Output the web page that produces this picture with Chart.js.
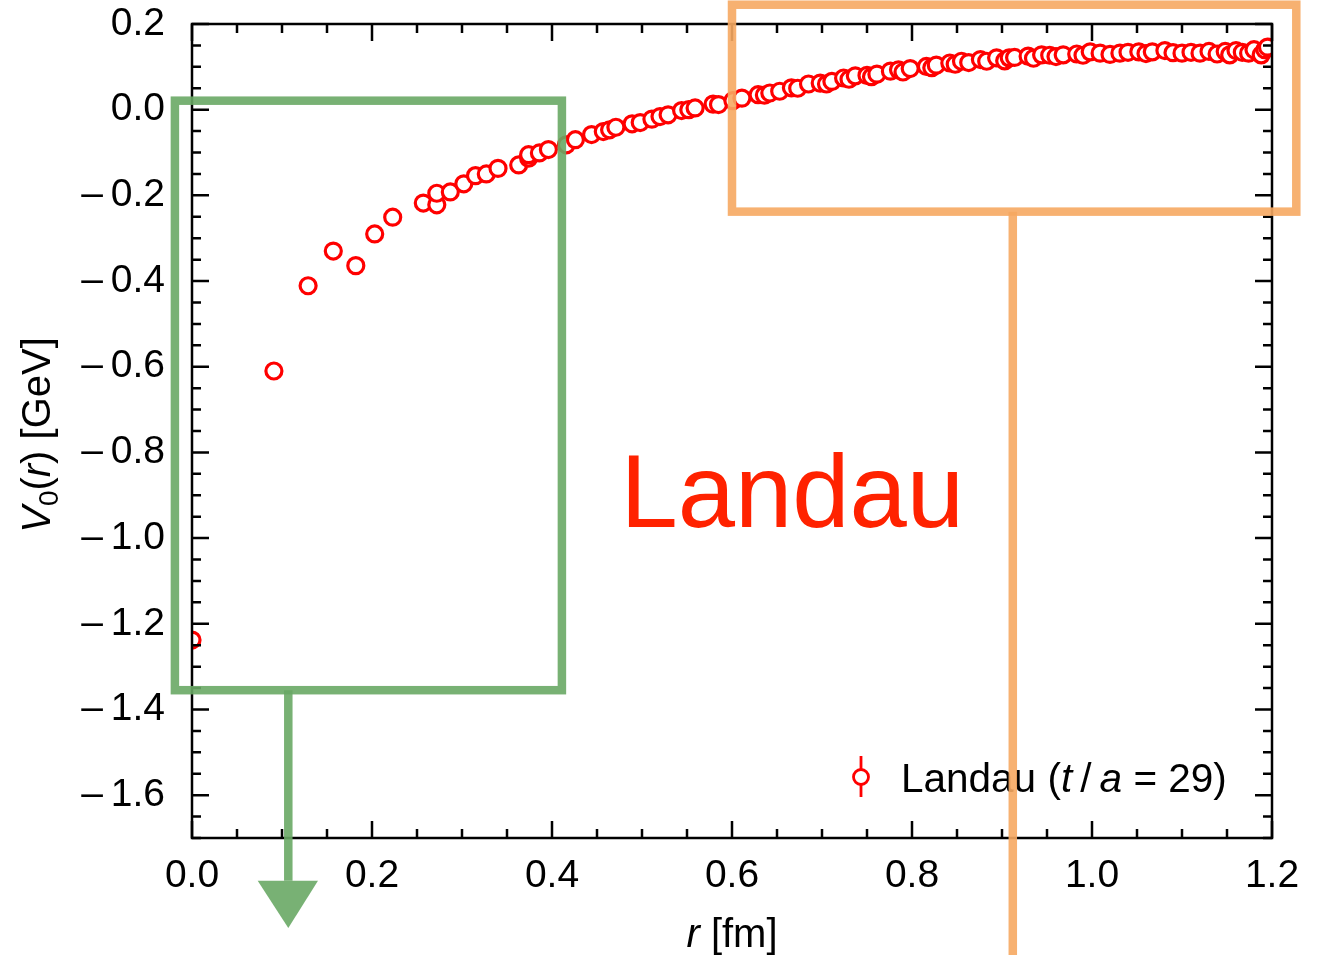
<!DOCTYPE html>
<html>
<head>
<meta charset="utf-8">
<title>V0(r) – Landau</title>
<script src="https://cdn.jsdelivr.net/npm/chart.js@4.4.1/dist/chart.umd.min.js"></script>
<style>
  html, body { margin: 0; padding: 0; background: #fff; }
  canvas { display: block; }
</style>
</head>
<body>
<canvas id="chart" width="1320" height="955"></canvas>
<script>
// Static potential V0(r), Landau gauge, t/a = 29
const rFm = [
  0.000, 0.091, 0.129, 0.157, 0.182, 0.203, 0.223, 0.257, 0.272, 0.272,
  0.287, 0.302, 0.315, 0.327, 0.340, 0.363, 0.374, 0.374, 0.386, 0.396,
  0.416, 0.426, 0.444, 0.457, 0.464, 0.471, 0.489, 0.498, 0.511, 0.520,
  0.529, 0.544, 0.552, 0.559, 0.579, 0.585, 0.601, 0.611, 0.629, 0.636,
  0.642, 0.653, 0.666, 0.673, 0.685, 0.698, 0.705, 0.711, 0.724, 0.730,
  0.737, 0.750, 0.755, 0.761, 0.776, 0.785, 0.790, 0.798, 0.816, 0.822,
  0.827, 0.842, 0.848, 0.855, 0.863, 0.876, 0.883, 0.894, 0.903, 0.908,
  0.914, 0.929, 0.935, 0.944, 0.953, 0.960, 0.968, 0.983, 0.990, 0.998,
  1.009, 1.020, 1.031, 1.040, 1.052, 1.060, 1.067, 1.081, 1.090, 1.100,
  1.110, 1.120, 1.130, 1.139, 1.148, 1.153, 1.160, 1.167, 1.174, 1.180,
  1.188, 1.192, 1.195
];
const v0GeV = [
  -1.238, -0.610, -0.411, -0.330, -0.364, -0.290, -0.251, -0.218, -0.222, -0.195,
  -0.192, -0.173, -0.154, -0.150, -0.137, -0.129, -0.113, -0.105, -0.101, -0.093,
  -0.082, -0.070, -0.058, -0.051, -0.047, -0.041, -0.033, -0.030, -0.022, -0.016,
  -0.012, -0.002, 0.000, 0.004, 0.013, 0.012, 0.021, 0.027, 0.035, 0.034,
  0.039, 0.043, 0.051, 0.050, 0.060, 0.062, 0.060, 0.066, 0.074, 0.071,
  0.079, 0.080, 0.077, 0.083, 0.090, 0.093, 0.088, 0.096, 0.101, 0.098,
  0.104, 0.109, 0.106, 0.113, 0.110, 0.117, 0.113, 0.121, 0.114, 0.121,
  0.122, 0.125, 0.120, 0.128, 0.127, 0.124, 0.128, 0.130, 0.127, 0.135,
  0.132, 0.129, 0.132, 0.134, 0.135, 0.131, 0.135, 0.138, 0.133, 0.132,
  0.134, 0.132, 0.136, 0.130, 0.136, 0.128, 0.138, 0.134, 0.132, 0.140,
  0.128, 0.140, 0.146
];

// axis ranges and labelled (major) ticks; minor ticks every 0.05
const xRange = [0, 1.2];
const yRange = [-1.7, 0.2];
const xMajorTicks = [0.0, 0.2, 0.4, 0.6, 0.8, 1.0, 1.2];
const yMajorTicks = [-1.6, -1.4, -1.2, -1.0, -0.8, -0.6, -0.4, -0.2, 0.0, 0.2];
const minorStep = 0.05;

// highlight boxes, in data units [rLeft, rRight, vBottom, vTop]
const greenBox = [-0.019, 0.411, -1.355, 0.021];
const orangeBox = [0.600, 1.227, -0.238, 0.245];

const FONT = "'Liberation Sans', Arial, sans-serif";
const RED = '#ff0000';

const isMajor = (v, majors) => majors.some(m => Math.abs(m - v) < 1e-6);
// long dash for the sign, like the typeset minus
const fmt = v => {
    const s = (Math.abs(v) < 1e-9 ? 0 : v).toFixed(1);
    return s.replace('-', '\u2013\u2009');
};

function buildTicks(range) {
    const out = [];
    const n = Math.round((range[1] - range[0]) / minorStep);
    for (let i = 0; i <= n; i++) {
        out.push({ value: +(range[0] + i * minorStep).toFixed(4) });
    }
    return out;
}

// draws a run of text pieces (normal / italic / subscript) one after another
function drawRuns(ctx, runs, x, y, size, align) {
    const fontFor = r => `${r.italic ? 'italic ' : ''}${r.sub ? Math.round(size * 0.7) : size}px ${FONT}`;
    let total = 0;
    runs.forEach(r => { ctx.font = fontFor(r); total += ctx.measureText(r.t).width; });
    let cx = align === 'center' ? x - total / 2 : x;
    ctx.textAlign = 'left';
    ctx.textBaseline = 'alphabetic';
    runs.forEach(r => {
        ctx.font = fontFor(r);
        ctx.fillText(r.t, cx, y + (r.sub ? size * 0.2 : 0));
        cx += ctx.measureText(r.t).width;
    });
}

// frame + inward ticks on all four sides
const frameTicks = {
    id: 'frameTicks',
    afterDatasetsDraw(chart) {
        const { ctx, chartArea: a, scales: { x, y } } = chart;
        ctx.save();
        ctx.strokeStyle = '#000';
        ctx.lineWidth = 2.5;
        ctx.beginPath();
        x.ticks.forEach(t => {
            const px = x.getPixelForValue(t.value);
            const len = isMajor(t.value, xMajorTicks) ? 17 : 9;
            ctx.moveTo(px, a.bottom); ctx.lineTo(px, a.bottom - len);
            ctx.moveTo(px, a.top); ctx.lineTo(px, a.top + len);
        });
        y.ticks.forEach(t => {
            const py = y.getPixelForValue(t.value);
            const len = isMajor(t.value, yMajorTicks) ? 17 : 9;
            ctx.moveTo(a.left, py); ctx.lineTo(a.left + len, py);
            ctx.moveTo(a.right, py); ctx.lineTo(a.right - len, py);
        });
        ctx.stroke();
        ctx.strokeRect(a.left, a.top, a.right - a.left, a.bottom - a.top);
        ctx.restore();
    }
};

// axis titles, legend entry and the big label
const labels = {
    id: 'labels',
    afterDraw(chart) {
        const { ctx, chartArea: a, scales: { x, y } } = chart;
        ctx.save();
        ctx.fillStyle = '#000';

        // x title
        drawRuns(ctx, [{ t: 'r', italic: true }, { t: ' [fm]' }],
            (a.left + a.right) / 2, 947, 40, 'center');

        // y title, rotated
        ctx.save();
        ctx.translate(50, (a.top + a.bottom) / 2 + 4);
        ctx.rotate(-Math.PI / 2);
        drawRuns(ctx, [
            { t: 'V', italic: true }, { t: '0', sub: true }, { t: '(' },
            { t: 'r', italic: true }, { t: ') [GeV]' }
        ], 0, 0, 40, 'center');
        ctx.restore();

        // legend: open circle with error bar
        const mx = a.right - 411, my = a.bottom - 61;
        ctx.strokeStyle = RED;
        ctx.lineWidth = 2.8;
        ctx.beginPath();
        ctx.moveTo(mx, my - 21); ctx.lineTo(mx, my + 20);
        ctx.stroke();
        ctx.beginPath();
        ctx.arc(mx, my, 7.5, 0, Math.PI * 2);
        ctx.fillStyle = '#fff';
        ctx.fill();
        ctx.stroke();
        ctx.fillStyle = '#000';
        drawRuns(ctx, [
            { t: chart.data.datasets[0].label + ' (' }, { t: 't', italic: true }, { t: '\u2009/\u2009' },
            { t: 'a', italic: true }, { t: ' = 29)' }
        ], mx + 40, my + 15, 40.5, 'left');

        // big gauge label
        ctx.fillStyle = '#ff2200';
        ctx.font = `103px ${FONT}`;
        ctx.textAlign = 'left';
        ctx.textBaseline = 'alphabetic';
        ctx.fillText('Landau', x.getPixelForValue(0.476), y.getPixelForValue(-0.974));
        ctx.restore();
    }
};

// crayon-style highlight boxes on top of everything
const highlights = {
    id: 'highlights',
    afterDraw(chart) {
        const { ctx, scales: { x, y } } = chart;
        const box = ([r0, r1, v0, v1]) => [x.getPixelForValue(r0), y.getPixelForValue(v1),
            x.getPixelForValue(r1), y.getPixelForValue(v0)];
        ctx.save();
        ctx.lineWidth = 8.5;
        ctx.lineJoin = 'miter';
        ctx.globalAlpha = 0.9;

        // green box with arrow pointing down
        ctx.strokeStyle = '#69a865';
        ctx.fillStyle = '#69a865';
        let [l, t, r, b] = box(greenBox);
        ctx.strokeRect(l, t, r - l, b - t);
        const ax = x.getPixelForValue(0.107);
        const headTop = y.getPixelForValue(-1.80);
        ctx.beginPath();
        ctx.moveTo(ax, b); ctx.lineTo(ax, headTop);
        ctx.stroke();
        ctx.beginPath();
        ctx.moveTo(x.getPixelForValue(0.073), headTop);
        ctx.lineTo(x.getPixelForValue(0.140), headTop);
        ctx.lineTo(ax, y.getPixelForValue(-1.91));
        ctx.closePath();
        ctx.fill();

        // orange box with stem running off the bottom
        ctx.strokeStyle = '#f6a862';
        [l, t, r, b] = box(orangeBox);
        ctx.strokeRect(l, t, r - l, b - t);
        const sx = x.getPixelForValue(0.912);
        ctx.beginPath();
        ctx.moveTo(sx, b); ctx.lineTo(sx, chart.height + 5);
        ctx.stroke();
        ctx.restore();
    }
};

const tickFont = { family: FONT, size: 39 };

// keep the plot frame where the layout padding puts it
const noLabelPadding = s => {
    s.paddingTop = 0; s.paddingBottom = 0; s.paddingLeft = 0; s.paddingRight = 0;
};

new Chart(document.getElementById('chart'), {
    type: 'scatter',
    data: {
        datasets: [{
            label: 'Landau',
            data: rFm.map((r, i) => ({ x: r, y: v0GeV[i] })),
            pointStyle: 'circle',
            pointRadius: 8,
            pointBorderWidth: 3.2,
            borderColor: RED,
            backgroundColor: '#ffffff',
            clip: 0,
        }]
    },
    options: {
        responsive: false,
        animation: false,
        events: [],
        layout: { padding: { top: 24, right: 48, left: 0, bottom: 0 } },
        plugins: { legend: { display: false }, tooltip: { enabled: false } },
        scales: {
            x: {
                type: 'linear',
                position: 'bottom',
                min: xRange[0],
                max: xRange[1],
                afterBuildTicks: s => { s.ticks = buildTicks(xRange); },
                afterFit: s => { s.height = 117; noLabelPadding(s); },
                grid: { display: false, drawTicks: false },
                border: { display: false },
                ticks: {
                    autoSkip: false,
                    maxRotation: 0,
                    padding: 15,
                    color: '#000',
                    font: tickFont,
                    callback: v => isMajor(v, xMajorTicks) ? fmt(v) : '',
                },
            },
            y: {
                type: 'linear',
                position: 'left',
                min: yRange[0],
                max: yRange[1],
                afterBuildTicks: s => { s.ticks = buildTicks(yRange); },
                afterFit: s => { s.width = 192; noLabelPadding(s); },
                grid: { display: false, drawTicks: false },
                border: { display: false },
                ticks: {
                    autoSkip: false,
                    padding: 27,
                    color: '#000',
                    font: tickFont,
                    callback: v => isMajor(v, yMajorTicks) ? fmt(v) : '',
                },
            },
        },
    },
    plugins: [frameTicks, labels, highlights],
});
</script>
</body>
</html>
